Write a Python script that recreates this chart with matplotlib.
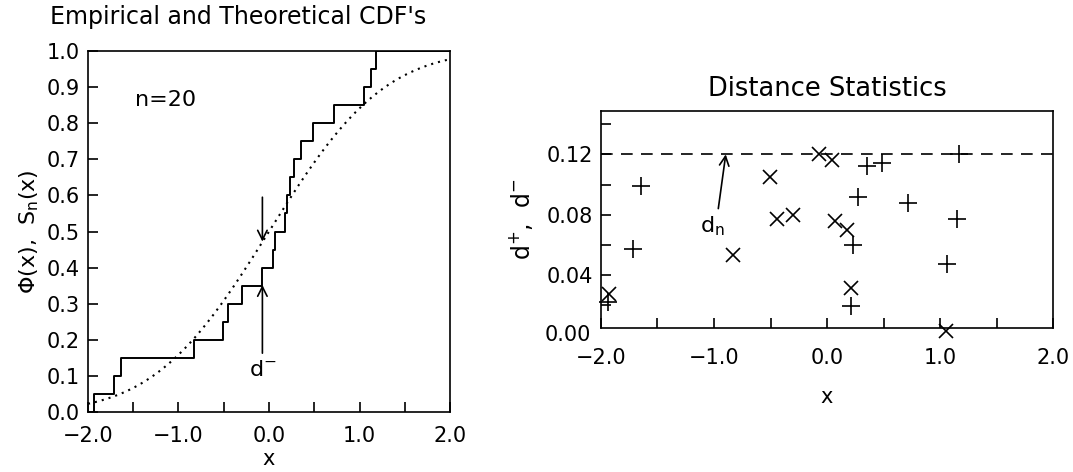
import math
import numpy as np
import matplotlib
matplotlib.use("Agg")
import matplotlib.pyplot as plt

plt.rcParams['font.family'] = ['DejaVu Sans']
plt.rcParams['mathtext.fontset'] = 'dejavusans'

# sample points (jump positions of the empirical CDF)
xs = [-1.934, -1.716, -1.635, -0.829, -0.508, -0.449, -0.298, -0.073, 0.044, 0.071,
      0.181, 0.203, 0.229, 0.276, 0.358, 0.486, 0.715, 1.050, 1.131, 1.179]
sn = [0.00, 0.05, 0.10, 0.15, 0.20, 0.25, 0.30, 0.35, 0.40, 0.45, 0.50,
      0.55, 0.60, 0.65, 0.70, 0.75, 0.80, 0.85, 0.90, 0.95, 1.00]

# distance statistics
dplus_x = [-1.935, -1.714, -1.649, 0.210, 0.233, 0.272, 0.351, 0.484, 0.720, 1.059, 1.148, 1.171]
dplus_y = [0.022, 0.057, 0.099, 0.019, 0.060, 0.092, 0.112, 0.114, 0.088, 0.047, 0.077, 0.120]
dminus_x = [-1.926, -0.829, -0.504, -0.445, -0.304, -0.071, 0.047, 0.071, 0.174, 0.210, 1.053]
dminus_y = [0.027, 0.053, 0.105, 0.077, 0.080, 0.120, 0.116, 0.076, 0.070, 0.031, 0.003]
dn = 0.12

fig = plt.figure(figsize=(10.73, 4.72), dpi=100)
ax1 = fig.add_axes([0.082, 0.1271, 0.3374, 0.7648])
ax2 = fig.add_axes([0.5601, 0.3044, 0.4213, 0.4604])

for ax in (ax1, ax2):
    for s in ax.spines.values():
        s.set_linewidth(1.2)
    ax.tick_params(direction='in', length=7.5, width=1.2, labelsize=15,
                   top=False, right=False)
    ax.tick_params(axis='y', pad=6)
    ax.tick_params(which='minor', direction='in', length=7.5, width=1.2,
                   top=False, right=False)
ax1.tick_params(axis='x', pad=10)
ax2.tick_params(axis='x', pad=14)

# left panel
xc = np.linspace(-2, 2, 400)
phi = np.array([0.5 * (1 + math.erf(v / math.sqrt(2))) for v in xc])
ax1.plot(xc, phi, color='black', lw=1.5, linestyle=(0, (1, 2.4)))
ax1.step([-2] + xs + [2], sn + [1.0], where='post', color='black', lw=1.4)
ax1.set_xlim(-2, 2)
ax1.set_ylim(0, 1)
ax1.set_xticks([-2, -1, 0, 1, 2])
ax1.set_xticklabels(['\u22122.0', '\u22121.0', '0.0', '1.0', '2.0'])
ax1.set_xticks([-1.5, -0.5, 0.5, 1.5], minor=True)
ax1.set_yticks(np.round(np.arange(0, 1.01, 0.1), 1))
ax1.set_yticklabels(['%.1f' % v for v in np.arange(0, 1.01, 0.1)])
ax1.set_xlabel('x', fontsize=15, labelpad=2)
ax1.set_ylabel(r'$\Phi$(x),  S$_\mathregular{n}$(x)', fontsize=16, labelpad=4)
fig.text(50 / 1073, 1 - 17 / 472, "Empirical and Theoretical CDF's", fontsize=17,
         ha='left', va='center')
ax1.text(-1.48, 0.865, 'n=20', fontsize=16, va='center', ha='left')
ax1.annotate('', xy=(-0.073, 0.472), xytext=(-0.073, 0.595),
             arrowprops=dict(arrowstyle='->', color='black', lw=1.2,
                             mutation_scale=17, shrinkA=0, shrinkB=0))
ax1.annotate('', xy=(-0.073, 0.352), xytext=(-0.073, 0.163),
             arrowprops=dict(arrowstyle='->', color='black', lw=1.2,
                             mutation_scale=17, shrinkA=0, shrinkB=0))
ax1.text(-0.07, 0.115, r'd$^{-}$', fontsize=16, ha='center', va='center')

# right panel
ax2.axhline(dn, color='black', lw=1.2, linestyle=(0, (7, 5)))
ax2.plot(dplus_x, dplus_y, linestyle='none', marker='+', ms=13, mew=1.2,
         color='black', clip_on=False)
ax2.plot(dminus_x, dminus_y, linestyle='none', marker='x', ms=9.5, mew=1.2,
         color='black', clip_on=False)
ax2.set_xlim(-2, 2)
ax2.set_ylim(0.0045, 0.1488)
ax2.set_xticks([-2, -1, 0, 1, 2])
ax2.set_xticklabels(['\u22122.0', '\u22121.0', '0.0', '1.0', '2.0'])
ax2.set_xticks([-1.5, -0.5, 0.5, 1.5], minor=True)
ax2.set_yticks([0.04, 0.08, 0.12])
ax2.set_yticklabels(['0.04', '0.08', '0.12'])
ax2.set_yticks([0.02, 0.06, 0.10, 0.14], minor=True)
ax2.text(-0.022, 0.0, '0.00', fontsize=15, ha='right', va='center',
         transform=ax2.get_yaxis_transform(), clip_on=False)
ax2.set_xlabel('x', fontsize=15, labelpad=14)
ax2.set_ylabel(r'd$^{+}$,  d$^{-}$', fontsize=17, labelpad=8)
ax2.set_title('Distance Statistics', fontsize=18.5, pad=11)
ax2.annotate('', xy=(-0.896, 0.12), xytext=(-0.962, 0.084),
             arrowprops=dict(arrowstyle='->', color='black', lw=1.2,
                             mutation_scale=17, shrinkA=0, shrinkB=0))
ax2.text(-1.01, 0.072, r'd$_\mathregular{n}$', fontsize=16, ha='center', va='center')

fig.savefig('out.png', dpi=100)
